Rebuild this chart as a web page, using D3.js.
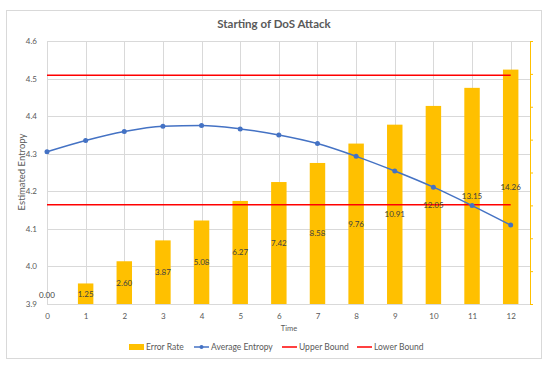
<!DOCTYPE html>
<html>
<head>
<meta charset="utf-8">
<script src="https://cdn.jsdelivr.net/npm/d3@7"></script>
<style>
  body { margin: 0; background: #fff; }
  text { font-family: Lato, "Open Sans", sans-serif; fill: #595959; }
</style>
</head>
<body>
<div id="chart"></div>
<script>
// data
var times = [0, 1, 2, 3, 4, 5, 6, 7, 8, 9, 10, 11, 12];
var errorRate = [0.00, 1.25, 2.60, 3.87, 5.08, 6.27, 7.42, 8.58, 9.76, 10.91, 12.05, 13.15, 14.26];
var avgEntropy = [4.305, 4.335, 4.359, 4.373, 4.375, 4.366, 4.350, 4.327, 4.293, 4.254, 4.211, 4.162, 4.110];
var upperBound = 4.509;
var lowerBound = 4.164;
var yTicks = [3.9, 4.0, 4.1, 4.2, 4.3, 4.4, 4.5, 4.6];
var y2Ticks = [0, 2, 4, 6, 8, 10, 12, 14, 16];
var legendNames = ["Error Rate", "Average Entropy", "Upper Bound", "Lower Bound"];

var W = 550, H = 371;
var margin = {top: 41, right: 20, bottom: 67, left: 47},
    width = 530 - margin.left,
    height = 304 - margin.top;

var svg = d3.select("#chart")
  .append("svg")
    .attr("width", W)
    .attr("height", H);

// outer frame
svg.append("rect")
  .attr("x", 6.5).attr("y", 10.5)
  .attr("width", 535).attr("height", 348)
  .attr("fill", "#fff")
  .attr("stroke", "#d9d9d9");

svg.append("text")
  .attr("x", 274).attr("y", 28)
  .attr("text-anchor", "middle")
  .style("font-size", "11.5px")
  .style("font-weight", "bold")
  .text("Starting of DoS Attack");

var g = svg.append("g")
  .attr("transform", "translate(" + margin.left + "," + margin.top + ")");

var x = d3.scaleLinear().domain([0, 12.5]).range([0, width]);
var y = d3.scaleLinear().domain([3.9, 4.6]).range([height, 0]);
var y2 = d3.scaleLinear().domain([0, 16]).range([height, 0]);

// gridlines
g.append("g")
  .selectAll("line.hg")
  .data(yTicks)
  .enter().append("line")
    .attr("x1", 0).attr("x2", width)
    .attr("y1", d => Math.round(y(d)) + 0.5)
    .attr("y2", d => Math.round(y(d)) + 0.5)
    .attr("stroke", "#d9d9d9");

g.append("g")
  .selectAll("line.vg")
  .data(times)
  .enter().append("line")
    .attr("x1", d => Math.round(x(d)) + 0.5)
    .attr("x2", d => Math.round(x(d)) + 0.5)
    .attr("y1", 0).attr("y2", height)
    .attr("stroke", "#d9d9d9");

// bars on the secondary axis
var bw = x(0.4);
g.append("g")
  .selectAll("rect")
  .data(errorRate)
  .enter().append("rect")
    .attr("x", (d, i) => x(times[i]) - bw / 2)
    .attr("y", d => y2(d))
    .attr("width", bw)
    .attr("height", d => height - y2(d))
    .attr("fill", "#ffc000");

// bound lines
[upperBound, lowerBound].forEach(function(b) {
  g.append("line")
    .attr("x1", x(0)).attr("x2", x(12))
    .attr("y1", y(b)).attr("y2", y(b))
    .attr("stroke", "#ff0000")
    .attr("stroke-width", 1.5);
});

// average entropy line
var line = d3.line()
  .x((d, i) => x(times[i]))
  .y(d => y(d))
  .curve(d3.curveMonotoneX);

g.append("path")
  .datum(avgEntropy)
  .attr("d", line)
  .attr("fill", "none")
  .attr("stroke", "#4472c4")
  .attr("stroke-width", 1.5);

g.append("g")
  .selectAll("circle")
  .data(avgEntropy)
  .enter().append("circle")
    .attr("cx", (d, i) => x(times[i]))
    .attr("cy", d => y(d))
    .attr("r", 2.5)
    .attr("fill", "#4472c4");

// bar labels
g.append("g")
  .selectAll("text")
  .data(errorRate)
  .enter().append("text")
    .attr("x", (d, i) => x(times[i]))
    .attr("y", d => Math.min((y2(d) + height) / 2, height - 9) + 3)
    .attr("text-anchor", "middle")
    .style("font-size", "8px")
    .style("fill", "#404040")
    .text(d => d.toFixed(2));

// left axis
var yAxis = g.append("g")
  .call(d3.axisLeft(y).tickValues(yTicks).tickSize(0).tickPadding(10).tickFormat(d3.format(".1f")));
yAxis.select(".domain").remove();
yAxis.selectAll("text").style("font-size", "8px").style("fill", "#595959");
g.append("line")
  .attr("x1", 0).attr("x2", width)
  .attr("y1", height + 0.5).attr("y2", height + 0.5)
  .attr("stroke", "#d9d9d9");

// bottom axis
var xAxis = g.append("g")
  .attr("transform", "translate(0," + height + ")")
  .call(d3.axisBottom(x).tickValues(times).tickSize(0).tickPadding(9));
xAxis.select(".domain").remove();
xAxis.selectAll("text").style("font-size", "8px").style("fill", "#595959");

// secondary axis (labels hidden)
var y2Axis = g.append("g")
  .attr("transform", "translate(" + width + ",0)")
  .call(d3.axisRight(y2).tickValues(y2Ticks).tickSize(3).tickFormat(""));
y2Axis.select(".domain").attr("stroke", "#ffc000");
y2Axis.selectAll(".tick line").attr("stroke", "#ffc000");

// axis titles
svg.append("text")
  .attr("transform", "translate(25,172) rotate(-90)")
  .attr("text-anchor", "middle")
  .style("font-size", "9.5px")
  .text("Estimated Entropy");

svg.append("text")
  .attr("x", 289).attr("y", 331)
  .attr("text-anchor", "middle")
  .style("font-size", "7.5px")
  .text("Time");

// legend
var legendX = [129, 194, 282, 357];
var leg = svg.append("g");
legendNames.forEach(function(name, i) {
  var lx = legendX[i], ly = 347;
  if (i === 0) {
    leg.append("rect").attr("x", lx).attr("y", ly - 3).attr("width", 15).attr("height", 6).attr("fill", "#ffc000");
  } else {
    var c = i === 1 ? "#4472c4" : "#ff0000";
    leg.append("line").attr("x1", lx).attr("x2", lx + 15).attr("y1", ly).attr("y2", ly)
      .attr("stroke", c).attr("stroke-width", 1.5);
    if (i === 1) leg.append("circle").attr("cx", lx + 7.5).attr("cy", ly).attr("r", 2).attr("fill", c);
  }
  leg.append("text")
    .attr("x", lx + 17).attr("y", ly + 3)
    .style("font-size", "8.5px")
    .text(name);
});
</script>
</body>
</html>
